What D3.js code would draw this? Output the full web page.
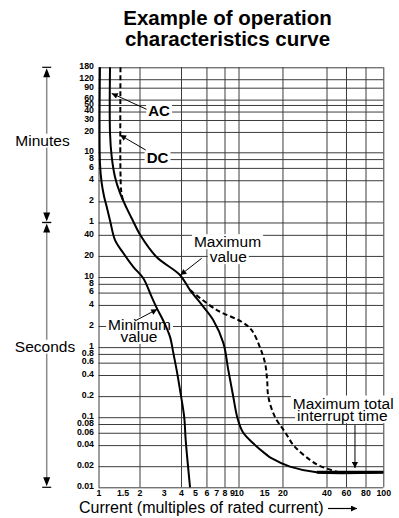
<!DOCTYPE html>
<html><head><meta charset="utf-8">
<script src="https://cdn.jsdelivr.net/npm/d3@7"></script>
<style>html,body{margin:0;padding:0;background:#fff;} svg{display:block;}</style>
</head><body>
<svg id="c" width="399" height="518"></svg>
<script>
// ---------- data ----------
const titleLines = ["Example of operation", "characteristics curve"];
const xAxisTitle = "Current (multiples of rated current)";
const xTickValues = [1,1.5,2,3,4,5,6,7,8,9,10,15,20,40,60,80,100];
const xGridValues = [1,2,4,6,8,10,20,40,60,80,100];
const minuteTicks = [180,120,90,60,50,40,30,20,10,8,6,4,2,1];          // minutes
const secondTicks = [40,20,10,8,6,4,2,1,0.8,0.6,0.4,0.2,0.1,0.08,0.06,0.04,0.02,0.01]; // seconds
// curves: [current multiple, operating time in seconds]
const minimumCurve = [[1.025,10800],[1.025,420],[1.055,220],[1.10,140],[1.15,100],[1.22,62],[1.32,34],[1.52,22],[1.8,14],[2.13,9.6],[2.45,5.2],[2.67,3.6],[2.97,2.4],[3.33,1.4],[3.52,0.82],[3.72,0.47],[3.97,0.22],[4.21,0.1],[4.31,0.047],[4.62,0.01]];
const acMaximumCurve = [[1.215,10800],[1.215,1150],[1.25,520],[1.32,270],[1.44,157],[1.61,96],[1.8,62],[2.02,40],[2.66,19.3],[3.93,10.7],[4.62,6.5],[5.58,4.0],[6.68,2.44],[7.86,1.14],[8.5,0.47],[9.2,0.196],[9.8,0.1],[10.7,0.0615],[12.6,0.0424],[15.6,0.029],[16.8,0.026],[22.5,0.0197],[34.3,0.0164],[100,0.0164]];
const dcMaximumCurve = [[1.45,10800],[1.45,300],[1.47,165],[1.51,125]];
const totalInterruptCurve = [[4.62,6.5],[7.05,3.4],[10.5,2.3],[12.3,1.75],[14.0,1.0],[15.2,0.59],[15.7,0.34],[16.0,0.196],[17.8,0.1],[20.8,0.0615],[23.7,0.04],[25.6,0.034],[30.9,0.0245],[36.2,0.0201],[49.6,0.0167],[52,0.0164]];
const interruptFloor = [[34.3,0.0164],[100,0.0164]];
// annotations (data coordinates)
const annotationLabels = [
  {text:"AC", at:[2.77,2444], bold:true},
  {text:"DC", at:[2.70,509], bold:true},
  {text:"Maximum", at:[8.39,31.9]},
  {text:"value", at:[8.5,19.5]},
  {text:"Minimum", at:[2.0,2.12]},
  {text:"value", at:[1.98,1.42]},
  {text:"Maximum total", at:[56.6,0.159]},
  {text:"interrupt time", at:[55.6,0.105]}
];
const annotationArrows = [
  {from:[2.25,2590], to:[1.25,4450]},
  {from:[2.22,648], to:[1.44,1080]},
  {from:[5.56,18.5], to:[3.96,10.7]},
  {from:[1.85,2.36], to:[2.69,3.47]},
  {from:[68.5,0.0773], to:[68.5,0.0188]}
];
const unitBands = [
  {label:"Minutes", from:10800, to:60, labelAt:889},
  {label:"Seconds", from:60, to:0.01, labelAt:1.01}
];

// ---------- layout ----------
const W = 399, H = 518;
const plot = {left:98.5, right:383.3, top:67.3, bottom:487.3};
const pw = plot.right - plot.left, ph = plot.bottom - plot.top;
const FONT = "'Liberation Sans', Arial, Helvetica, sans-serif";

// printed axes are slightly non-uniform logs: piecewise log scales
const x = d3.scaleLog()
  .domain([1,2,4,10,20,40,60,80,100])
  .range([0,0.144,0.2897,0.4916,0.646,0.8006,0.869,0.9375,1].map(f => plot.left + f*pw));
const y = d3.scaleLog()
  .domain([0.01,60,600,10800])
  .range([0,0.6305,0.7976,1].map(f => plot.bottom - f*ph));

const svg = d3.select("#c");
svg.append("rect").attr("width",W).attr("height",H).attr("fill","#fff");

const defs = svg.append("defs");
defs.append("marker").attr("id","ah").attr("viewBox","0 0 10 10")
  .attr("refX",10).attr("refY",5).attr("markerWidth",9).attr("markerHeight",6)
  .attr("markerUnits","userSpaceOnUse").attr("orient","auto")
  .append("path").attr("d","M0,0L10,5L0,10z").attr("fill","#000");

// title
svg.append("g").selectAll("text").data(titleLines).join("text")
  .attr("x",227.5).attr("y",(d,i)=>25+i*21)
  .attr("text-anchor","middle").attr("font-family",FONT).attr("font-weight","bold")
  .attr("font-size",20.5).attr("fill","#000").text(d=>d);

// y axis + horizontal gridlines
const yTickVals = minuteTicks.map(m=>m*60).concat(secondTicks);
const yAxis = d3.axisLeft(y).tickValues(yTickVals)
  .tickSize(-pw).tickPadding(4.5)
  .tickFormat(v => v >= 60 ? String(v/60) : String(v));
const gy = svg.append("g").attr("transform",`translate(${plot.left},0)`).call(yAxis);
gy.select(".domain").remove();
gy.selectAll(".tick line").attr("stroke","#3c3c3c").attr("stroke-width",1);
gy.selectAll(".tick text").attr("font-family",FONT).attr("font-weight","bold")
  .attr("font-size",8.8).attr("fill","#000").attr("dy","0.15em");

// x axis labels
const xAxis = d3.axisBottom(x).tickValues(xTickValues).tickSize(0).tickPadding(2)
  .tickFormat(d=>String(d));
const gx = svg.append("g").attr("transform",`translate(0,${plot.bottom})`).call(xAxis);
gx.select(".domain").remove();
gx.selectAll(".tick text").attr("font-family",FONT).attr("font-weight","bold")
  .attr("font-size",8.8).attr("fill","#000");

// vertical gridlines
const xGrid = d3.axisBottom(x).tickValues(xGridValues).tickSize(-ph).tickFormat("");
const gg = svg.append("g").attr("transform",`translate(0,${plot.bottom})`).call(xGrid);
gg.select(".domain").remove();
gg.selectAll(".tick line").attr("stroke","#3c3c3c").attr("stroke-width",1);

// unit bands at left
const bandX = 46.7;
const gb = svg.append("g");
unitBands.forEach(b => {
  const y0 = y(b.from), y1 = y(b.to);
  gb.append("line").attr("x1",bandX).attr("x2",bandX).attr("y1",y0+9).attr("y2",y1-9)
    .attr("stroke","#8a8a8a").attr("stroke-width",1.5);
  [y0,y1].forEach(yy => gb.append("line").attr("x1",bandX-4.5).attr("x2",bandX+4.5)
    .attr("y1",yy).attr("y2",yy).attr("stroke","#000").attr("stroke-width",1.2));
  gb.append("path").attr("d",`M${bandX},${y0+1}L${bandX-3.5},${y0+10}L${bandX+3.5},${y0+10}Z`).attr("fill","#000");
  gb.append("path").attr("d",`M${bandX},${y1-1}L${bandX-3.5},${y1-10}L${bandX+3.5},${y1-10}Z`).attr("fill","#000");
});

// white backgrounds + label text helper
const gBg = svg.append("g");
const gCurves = svg.append("g");
const gText = svg.append("g");
function label(px, py, text, opts={}) {
  const t = gText.append("text").attr("x",px).attr("y",py).attr("dy","0.35em")
    .attr("text-anchor", opts.anchor || "middle")
    .attr("font-family",FONT).attr("font-size",opts.size || 15.5)
    .attr("font-weight",opts.bold ? "bold" : "normal").attr("fill","#000").text(text);
  const bb = t.node().getBBox();
  const pad = opts.pad == null ? 1 : opts.pad;
  gBg.append("rect").attr("x",bb.x-pad).attr("y",bb.y+pad*0.5).attr("width",bb.width+2*pad)
    .attr("height",bb.height-pad).attr("fill","#fff");
}
unitBands.forEach((b,i) => label(i===0?42.5:45, y(b.labelAt), b.label, {pad:3}));
annotationLabels.forEach(a => label(x(a.at[0]), y(a.at[1]), a.text, {bold:a.bold, size:a.bold?15:15.5, pad:2}));

// curves
const line = d3.line().x(d=>x(d[0])).y(d=>y(d[1])).curve(d3.curveCatmullRom.alpha(0.5));
gCurves.append("path").attr("d",line(minimumCurve)).attr("fill","none").attr("stroke","#000").attr("stroke-width",2);
gCurves.append("path").attr("d",line(acMaximumCurve)).attr("fill","none").attr("stroke","#000").attr("stroke-width",2);
gCurves.append("path").attr("d",line(dcMaximumCurve)).attr("fill","none").attr("stroke","#000").attr("stroke-width",2).attr("stroke-dasharray","5,3");
gCurves.append("path").attr("d",line(totalInterruptCurve)).attr("fill","none").attr("stroke","#000").attr("stroke-width",2).attr("stroke-dasharray","5,3");
gCurves.append("path").attr("d",d3.line().x(d=>x(d[0])).y(d=>y(d[1]))(interruptFloor)).attr("fill","none").attr("stroke","#000").attr("stroke-width",3);

// annotation arrows
svg.append("g").selectAll("line").data(annotationArrows).join("line")
  .attr("x1",d=>x(d.from[0])).attr("y1",d=>y(d.from[1]))
  .attr("x2",d=>x(d.to[0])).attr("y2",d=>y(d.to[1]))
  .attr("stroke","#000").attr("stroke-width",1).attr("marker-end","url(#ah)");

// x axis title with arrow
svg.append("text").attr("x",79).attr("y",513).attr("font-family",FONT).attr("font-size",16)
  .attr("fill","#000").text(xAxisTitle);
svg.append("line").attr("x1",328).attr("x2",357).attr("y1",508.5).attr("y2",508.5)
  .attr("stroke","#000").attr("stroke-width",1.2).attr("marker-end","url(#ah)");
</script>
</body></html>
